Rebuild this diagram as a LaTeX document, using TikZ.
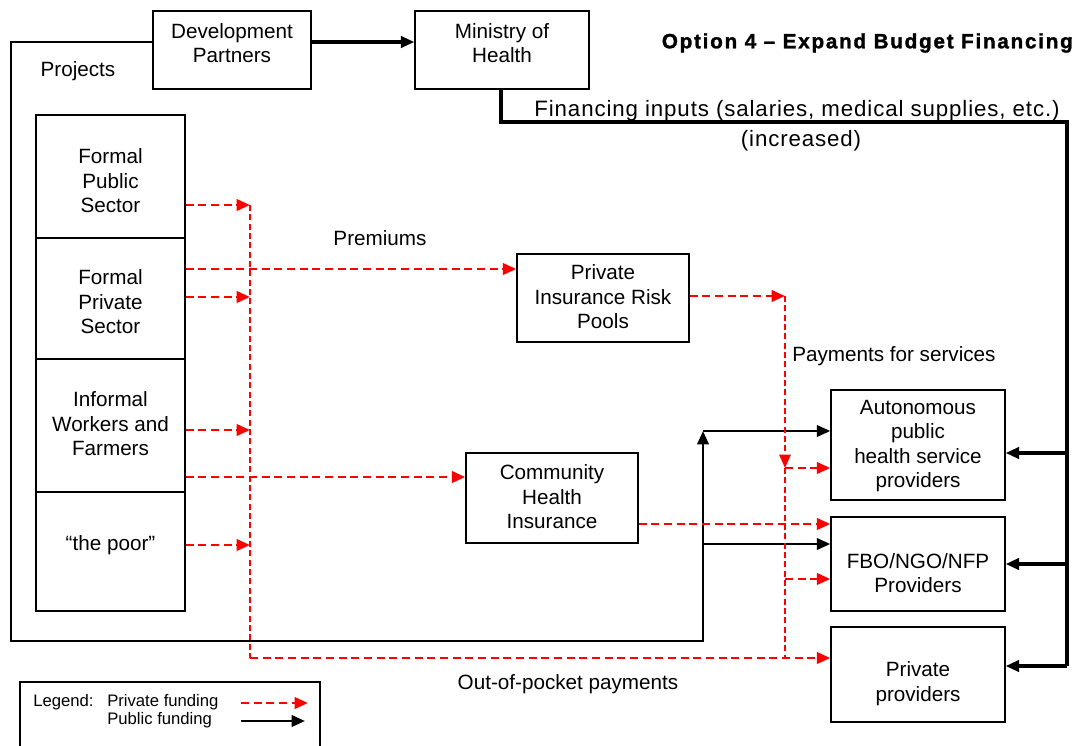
\documentclass[tikz,border=0pt]{standalone}
\usepackage{fontspec}
\setmainfont{Liberation Sans}
\newfontfamily\titlefont[LetterSpace=8.5, FakeBold=1.5]{Liberation Sans Bold}
\newfontfamily\finfont[LetterSpace=4]{Liberation Sans}
\usetikzlibrary{arrows.meta}
\begin{document}
\begin{tikzpicture}[x=0.75pt,y=-0.75pt,
  every node/.style={font=\fontsize{15.5}{18.4}\selectfont, inner sep=0pt},
  box/.style={draw, line width=1.1pt, rectangle, inner sep=0pt},
  txt/.style={align=center},
  small/.style={font=\fontsize{12.5}{15}\selectfont},
  tip/.style={-{Triangle[length=10pt,width=8.5pt]}},
  pub/.style={draw=black, line width=1.9pt, tip},
  pubbus/.style={draw=black, line width=2.6pt},
  pubthick/.style={draw=black, line width=2.4pt, tip},
  priv/.style={draw=red, line width=2pt, dash pattern=on 6pt off 3.5pt, tip},
  privv/.style={draw=red, line width=1.4pt, dash pattern=on 4.5pt off 2.5pt},
]
\useasboundingbox (0,0) rectangle (1078,746);

% ---- top boxes
\node[box, minimum width=118.5pt, minimum height=58.5pt] (dp) at (232,50) {};
\node[txt] (dpt) at (232,43) {Development\\Partners};
\node[box, minimum width=130.5pt, minimum height=58.5pt] (moh) at (502,50) {};
\node[txt] (moht) at (502,43) {Ministry of\\Health};

\node[anchor=east, font=\titlefont\fontsize{15.5}{18}\selectfont] (title) at (1073,43) {Option 4 – Expand Budget Financing};

% ---- left column
\node[box, minimum width=111.75pt, minimum height=92.25pt] (fpub) at (110.5,176.5) {};
\node[txt] (fpubt) at (110.5,181) {Formal\\Public\\Sector};
\node[box, minimum width=111.75pt, minimum height=90.75pt] (fpriv) at (110.5,298.5) {};
\node[txt] (fprivt) at (110.5,302) {Formal\\Private\\Sector};
\node[box, minimum width=111.75pt, minimum height=99.75pt] (inf) at (110.5,425.5) {};
\node[txt] (inft) at (110.5,424) {Informal\\Workers and\\Farmers};
\node[box, minimum width=111.75pt, minimum height=89.25pt] (poor) at (110.5,551.5) {};
\node[txt] (poort) at (110.5,545) {“the poor”};

% ---- middle boxes
\node[box, minimum width=129pt, minimum height=66pt] (pirp) at (603,298) {};
\node[txt] (pirpt) at (603,297) {Private\\Insurance Risk\\Pools};
\node[box, minimum width=129pt, minimum height=67.5pt] (chi) at (552,498) {};
\node[txt] (chit) at (552,497) {Community\\Health\\Insurance};

% ---- right boxes
\node[box, minimum width=130.5pt, minimum height=82.5pt] (auto) at (918,445) {};
\node[txt] (autot) at (918,446) {Autonomous\\public\\health service\\providers};
\node[box, minimum width=130.5pt, minimum height=70.5pt] (fbo) at (918,564) {};
\node[txt] (fbot) at (918,573) {FBO/NGO/NFP\\Providers};
\node[box, minimum width=130.5pt, minimum height=71.25pt] (pp) at (918,674.5) {};
\node[txt] (ppt) at (918,683.5) {Private\\providers};

% ---- labels
\node (proj) at (78,71) {Projects};
\node[font=\finfont\fontsize{16.7}{20}\selectfont] (fin1) at (797,111) {Financing inputs (salaries, medical supplies, etc.)};
\node[font=\finfont\fontsize{16.7}{20}\selectfont] (fin2) at (801,141) {(increased)};
\node (prem) at (380,238) {Premiums};
\node[anchor=west] (pay) at (792,356) {Payments for services};
\node (oop) at (568,684) {Out-of-pocket payments};

% ---- coordinates
\coordinate (hDP) at (0,42);
\coordinate (pL) at (11,42);
\coordinate (pB) at (11,641);
\coordinate (pJ) at (703,641);
\coordinate (pT) at (703,431);
\coordinate (pM) at (703,544);
\coordinate (m1) at (501,122);
\coordinate (m2) at (1067,122);
\coordinate (m3) at (1067,666);
\coordinate (r1) at (1067,453);
\coordinate (r2) at (1067,564);
\coordinate (r3) at (1067,666);

% ---- public funding
\draw[pubthick] (dp.east |- hDP) -- (moh.west |- hDP);
\draw[pub] (dp.west |- hDP) -- (pL) -- (pB) -- (pJ) -- (pT);
\draw[pub] (pT) -- (auto.west |- pT);
\draw[pub] (pM) -- (fbo.west |- pM);
\draw[pubbus] (m1 |- moh.south) -- (m1) -- (m2) -- (m3);
\draw[pubthick] (r1) -- (auto.east |- r1);
\draw[pubthick] (r2) -- (fbo.east |- r2);
\draw[pubthick] (r3) -- (pp.east |- r3);

% ---- private funding
\coordinate (v1) at (250,205);
\coordinate (v2) at (250,658);
\coordinate (h269) at (0,269);
\coordinate (h297) at (0,297);
\coordinate (h430) at (0,430);
\coordinate (h477) at (0,477);
\coordinate (h545) at (0,545);
\coordinate (w1) at (785,296);
\coordinate (w2) at (785,468);
\coordinate (w3) at (785,658);
\coordinate (w4) at (785,579);
\coordinate (h524) at (0,524);

\draw[privv] (v1) -- (v2);
\draw[priv] (v2) -- (pp.west |- v2);
\draw[priv] (fpub.east |- v1) -- (v1);
\draw[priv] (fpriv.east |- h269) -- (pirp.west |- h269);
\draw[priv] (fpriv.east |- h297) -- (v1 |- h297);
\draw[priv] (inf.east |- h430) -- (v1 |- h430);
\draw[priv] (inf.east |- h477) -- (chi.west |- h477);
\draw[priv] (poor.east |- h545) -- (v1 |- h545);
\draw[priv] (pirp.east |- w1) -- (w1);
\draw[privv, tip] (w1) -- (w2);
\draw[priv] (w2) -- (auto.west |- w2);
\draw[privv] (w2) -- (w3);
\draw[priv] (w4) -- (fbo.west |- w4);
\draw[priv] (chi.east |- h524) -- (fbo.west |- h524);

% ---- legend
\draw[line width=1.1pt] (20,746) -- (20,682) -- (320,682) -- (320,746);
\node[anchor=west, small] (lg) at (33,702) {Legend:};
\node[anchor=west, small] (lpriv) at (107,702) {Private funding};
\node[anchor=west, small] (lpub) at (107,720) {Public funding};
\coordinate (la1) at (241,703);
\coordinate (la2) at (308,703);
\coordinate (lb1) at (241,721);
\coordinate (lb2) at (305,721);
\draw[priv] (la1) -- (la2);
\draw[pub] (lb1) -- (lb2);
\end{tikzpicture}
\end{document}
